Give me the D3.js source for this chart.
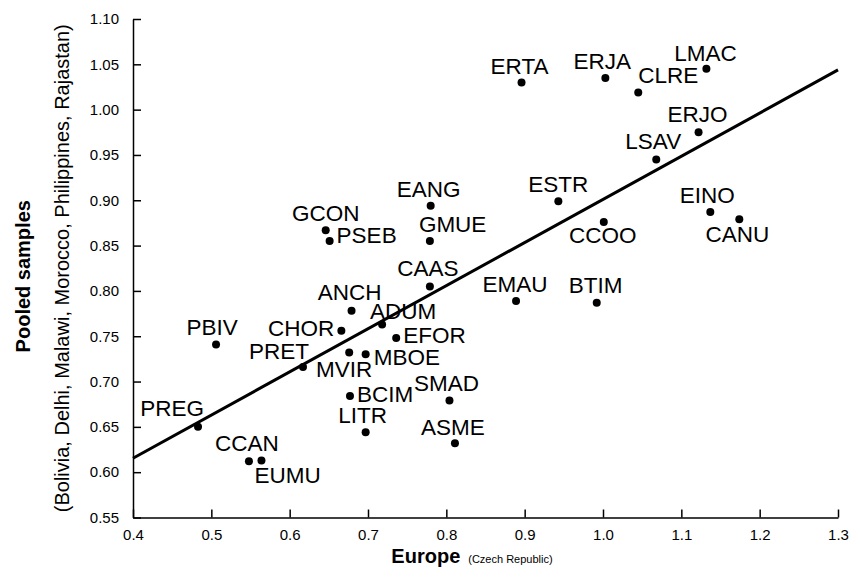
<!DOCTYPE html>
<html lang="en">
  <head>
    <meta charset="UTF-8" />
    <title>Pooled samples vs Europe</title>
    <style>
      body {
        margin: 0;
        background: #fff;
      }
      svg {
        display: block;
        font-family: Arial, "Liberation Sans", sans-serif;
      }
      .axis path,
      .axis line {
        stroke: #000;
        stroke-width: 1.5px;
      }
      .axis text {
        font-size: 15px;
        fill: #000;
      }
    </style>
  </head>
  <body>
    <div id="chart"></div>

    <script src="https://d3js.org/d3.v7.min.js"></script>
    <script>
      // populations (codes), x = Europe (Czech Republic), y = pooled samples
      const codes = [
        "ERTA", "ERJA", "CLRE", "LMAC", "ERJO", "LSAV", "ESTR", "CCOO", "EINO", "CANU",
        "EMAU", "BTIM", "EANG", "GCON", "PSEB", "GMUE", "CAAS", "ANCH", "ADUM", "CHOR",
        "PBIV", "EFOR", "PRET", "MBOE", "MVIR", "BCIM", "LITR", "SMAD", "ASME", "CCAN",
        "EUMU", "PREG"
      ];
      const europe = [
        0.896, 1.003, 1.045, 1.132, 1.122, 1.068, 0.943, 1.001, 1.137, 1.174,
        0.889, 0.992, 0.780, 0.646, 0.651, 0.779, 0.779, 0.679, 0.718, 0.666,
        0.506, 0.736, 0.617, 0.697, 0.676, 0.677, 0.697, 0.804, 0.811, 0.548,
        0.564, 0.483
      ];
      const pooled = [
        1.030, 1.035, 1.019, 1.045, 0.975, 0.945, 0.899, 0.876, 0.887, 0.879,
        0.789, 0.787, 0.894, 0.867, 0.855, 0.855, 0.805, 0.778, 0.763, 0.756,
        0.741, 0.748, 0.716, 0.730, 0.732, 0.684, 0.644, 0.679, 0.632, 0.612,
        0.613, 0.650
      ];

      // fitted line y = intercept + slope * x
      const fitIntercept = 0.425;
      const fitSlope = 0.476;

      const xTicks = [0.4, 0.5, 0.6, 0.7, 0.8, 0.9, 1.0, 1.1, 1.2, 1.3];
      const yTicks = [0.55, 0.6, 0.65, 0.7, 0.75, 0.8, 0.85, 0.9, 0.95, 1.0, 1.05, 1.1];

      // where each code label sits around its dot: [anchor, dx, dy]
      const labelPlace = {
        ERTA: ["middle", -2, -8], ERJA: ["middle", -3, -9], CLRE: ["start", 0, -9],
        LMAC: ["middle", -1, -8], ERJO: ["middle", -1, -10], LSAV: ["middle", -3, -10],
        ESTR: ["middle", 0, -9], CCOO: ["middle", -1, 21], EINO: ["middle", -3, -9],
        CANU: ["middle", -2, 23], EMAU: ["middle", -1, -9], BTIM: ["middle", -1, -10],
        EANG: ["middle", -2, -9], GCON: ["middle", 0, -9], PSEB: ["start", 7, 2],
        GMUE: ["start", -11, -9], CAAS: ["middle", -2, -10], ANCH: ["middle", -2, -11],
        ADUM: ["start", -12, -5], CHOR: ["end", -7, 5], PBIV: ["middle", -4, -9],
        EFOR: ["start", 7, 5], PRET: ["end", 6, -8], MBOE: ["start", 8, 11],
        MVIR: ["middle", -5, 24], BCIM: ["start", 7, 6], LITR: ["middle", -3, -9],
        SMAD: ["middle", -3, -10], ASME: ["middle", -2, -8], CCAN: ["middle", -2, -10],
        EUMU: ["start", -7, 23], PREG: ["end", 6, -11]
      };

      const width = 862,
        height = 579;
      const margin = { top: 19, right: 24, bottom: 61, left: 133 };

      const svg = d3
        .select("#chart")
        .append("svg")
        .attr("width", width)
        .attr("height", height);

      svg.append("rect").attr("width", width).attr("height", height).attr("fill", "#fff");

      const x = d3
        .scaleLinear()
        .domain([0.4, 1.3])
        .range([margin.left, width - margin.right]);
      const y = d3
        .scaleLinear()
        .domain([0.55, 1.1])
        .range([height - margin.bottom - 0.5, margin.top]);

      // axes, ticks point inward
      svg
        .append("g")
        .attr("class", "axis")
        .attr("transform", `translate(0,${y(0.55)})`)
        .call(
          d3.axisBottom(x)
            .tickValues(xTicks)
            .tickFormat(d3.format(".1f"))
            .tickSizeInner(-8)
            .tickSizeOuter(0)
            .tickPadding(12)
        );

      svg
        .append("g")
        .attr("class", "axis")
        .attr("transform", `translate(${x(0.4)},0)`)
        .call(
          d3.axisLeft(y)
            .tickValues(yTicks)
            .tickFormat(d3.format(".2f"))
            .tickSizeInner(-8)
            .tickSizeOuter(0)
            .tickPadding(14)
        );

      svg.selectAll(".axis text").attr("font-family", null);

      // regression line
      const xd = x.domain();
      svg
        .append("line")
        .attr("x1", x(xd[0]))
        .attr("y1", y(fitIntercept + fitSlope * xd[0]))
        .attr("x2", x(xd[1]))
        .attr("y2", y(fitIntercept + fitSlope * xd[1]))
        .style("stroke", "#000")
        .style("stroke-width", 3);

      const pts = codes.map((c, i) => ({ code: c, x: europe[i], y: pooled[i] }));

      svg
        .selectAll(".dot")
        .data(pts)
        .enter()
        .append("circle")
        .attr("class", "dot")
        .attr("cx", (d) => x(d.x))
        .attr("cy", (d) => y(d.y))
        .attr("r", 4)
        .style("fill", "#000");

      svg
        .selectAll(".code")
        .data(pts)
        .enter()
        .append("text")
        .attr("class", "code")
        .attr("x", (d) => x(d.x) + labelPlace[d.code][1])
        .attr("y", (d) => y(d.y) + labelPlace[d.code][2])
        .attr("text-anchor", (d) => labelPlace[d.code][0])
        .style("font-size", "22.5px")
        .text((d) => d.code);

      // axis titles
      const xt = svg
        .append("text")
        .attr("x", 472)
        .attr("y", 563)
        .attr("text-anchor", "middle");
      xt.append("tspan").style("font-weight", "bold").style("font-size", "20px").text("Europe");
      xt.append("tspan").attr("dx", 8).style("font-size", "11px").text("(Czech Republic)");

      const cy = (y(0.55) + y(1.1)) / 2;
      svg
        .append("text")
        .attr("transform", `translate(30,${cy + 8}) rotate(-90)`)
        .attr("text-anchor", "middle")
        .style("font-weight", "bold")
        .style("font-size", "20px")
        .text("Pooled samples");
      svg
        .append("text")
        .attr("transform", `translate(69,${cy}) rotate(-90)`)
        .attr("text-anchor", "middle")
        .style("font-size", "20px")
        .text("(Bolivia, Delhi, Malawi, Morocco, Philippines, Rajastan)");
    </script>
  </body>
</html>
